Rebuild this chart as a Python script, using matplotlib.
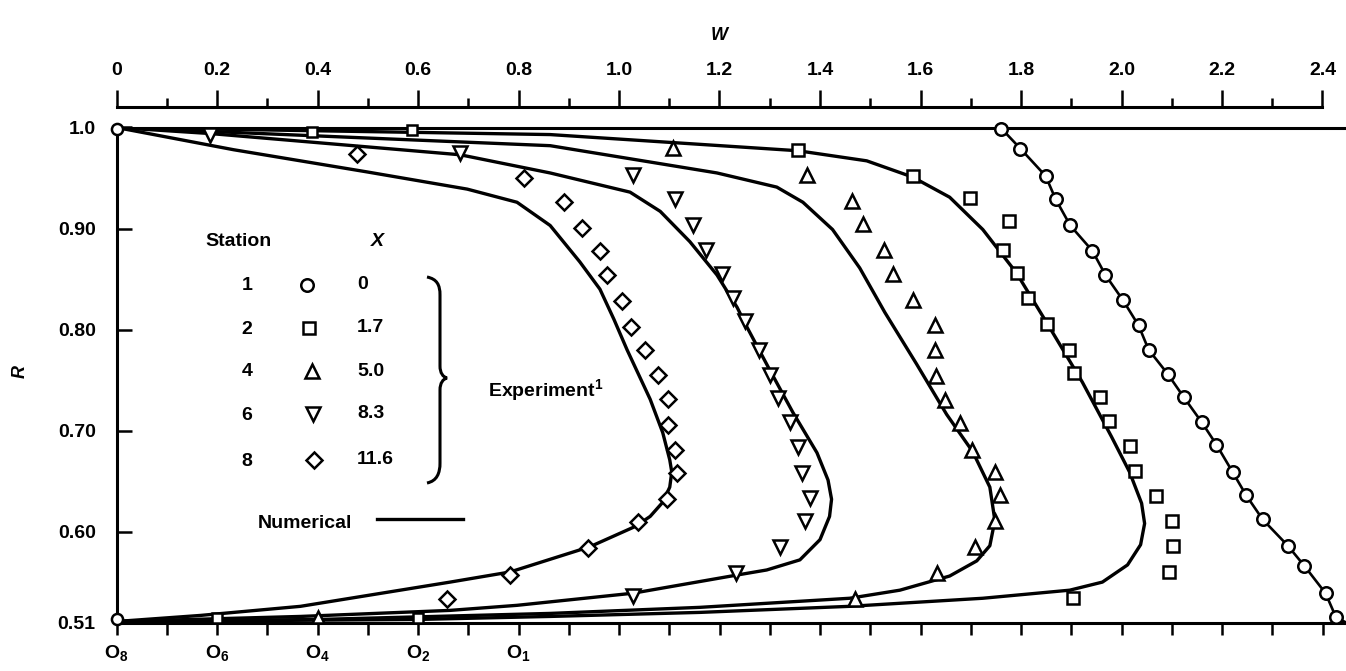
import numpy as np
import matplotlib
matplotlib.use("Agg")
import matplotlib.pyplot as plt
from matplotlib.path import Path
from matplotlib.patches import PathPatch
from matplotlib.lines import Line2D

plt.rcParams['font.family'] = ['Liberation Sans', 'DejaVu Sans']
plt.rcParams['font.size'] = 14
plt.rcParams['font.weight'] = 'bold'
plt.rcParams['mathtext.fontset'] = 'custom'
plt.rcParams['mathtext.rm'] = 'Liberation Sans:bold'
plt.rcParams['mathtext.it'] = 'Liberation Sans:italic:bold'
plt.rcParams['mathtext.bf'] = 'Liberation Sans:bold'

# station 1 (circles), X = 0
st1_w = [1.761, 1.799, 1.849, 1.869, 1.898, 1.942, 1.968, 2.003, 2.034, 2.054, 2.092,
         2.124, 2.160, 2.189, 2.221, 2.248, 2.281, 2.331, 2.364, 2.406, 2.427]
st1_r = [0.999, 0.979, 0.952, 0.929, 0.903, 0.878, 0.854, 0.829, 0.804, 0.780, 0.756,
         0.733, 0.708, 0.686, 0.659, 0.636, 0.612, 0.586, 0.566, 0.539, 0.515]

# station 2 (squares), X = 1.7
st2_w = [1.356, 1.585, 1.698, 1.776, 1.765, 1.792, 1.814, 1.851, 1.895, 1.905, 1.958,
         1.975, 2.016, 2.026, 2.068, 2.101, 2.102, 2.095, 1.903]
st2_r = [0.978, 0.952, 0.930, 0.907, 0.879, 0.856, 0.831, 0.805, 0.780, 0.757, 0.733,
         0.709, 0.685, 0.660, 0.635, 0.610, 0.586, 0.560, 0.534]

# station 4 (triangles), X = 5.0
st4_w = [1.107, 1.374, 1.464, 1.485, 1.527, 1.545, 1.586, 1.628, 1.628, 1.630, 1.649,
         1.678, 1.703, 1.748, 1.759, 1.748, 1.708, 1.633, 1.469]
st4_r = [0.980, 0.953, 0.927, 0.904, 0.879, 0.855, 0.829, 0.804, 0.780, 0.754, 0.730,
         0.707, 0.681, 0.659, 0.636, 0.610, 0.585, 0.559, 0.533]

# station 6 (inverted triangles), X = 8.3
st6_w = [0.187, 0.684, 1.028, 1.111, 1.147, 1.174, 1.204, 1.227, 1.250, 1.279, 1.300,
         1.317, 1.341, 1.356, 1.365, 1.380, 1.370, 1.321, 1.233, 1.027]
st6_r = [0.993, 0.975, 0.953, 0.929, 0.903, 0.879, 0.855, 0.831, 0.808, 0.780, 0.755,
         0.732, 0.708, 0.684, 0.658, 0.633, 0.610, 0.585, 0.559, 0.536]

# station 8 (diamonds), X = 11.6
st8_w = [0.479, 0.810, 0.891, 0.926, 0.962, 0.977, 1.005, 1.023, 1.052, 1.078, 1.098,
         1.098, 1.111, 1.115, 1.095, 1.038, 0.938, 0.783, 0.658]
st8_r = [0.974, 0.950, 0.926, 0.901, 0.878, 0.854, 0.828, 0.803, 0.780, 0.755, 0.731,
         0.706, 0.681, 0.658, 0.632, 0.609, 0.584, 0.557, 0.533]

# wall points at the shifted origins
wall_circ_w, wall_circ_r = [0.0, 0.0], [0.999, 0.513]
wall_sq_w, wall_sq_r = [0.389, 0.589, 0.2, 0.6], [0.996, 0.998, 0.514, 0.514]
wall_tri_w, wall_tri_r = [0.4], [0.515]

# numerical profiles
num1_w = [1.752] + st1_w + [2.447]
num1_r = [1.0] + st1_r + [0.51]
num2_w = [0.0, 0.863, 1.356, 1.493, 1.584, 1.658, 1.724, 1.791, 1.857, 1.922, 1.980, 2.016,
          2.040, 2.046, 2.038, 2.012, 1.962, 1.897, 1.724, 1.459, 1.161, 0.863, 0.598, 0.0]
num2_r = [1.0, 0.993, 0.977, 0.967, 0.951, 0.931, 0.899, 0.856, 0.802, 0.748, 0.694, 0.659,
          0.628, 0.608, 0.587, 0.567, 0.550, 0.542, 0.534, 0.526, 0.520, 0.516, 0.513, 0.511]
num4_w = [0.0, 0.863, 1.195, 1.314, 1.366, 1.425, 1.479, 1.529, 1.592, 1.652, 1.704, 1.738,
          1.748, 1.738, 1.712, 1.658, 1.559, 1.459, 1.161, 0.863, 0.400, 0.0]
num4_r = [1.0, 0.982, 0.955, 0.941, 0.926, 0.899, 0.861, 0.817, 0.766, 0.716, 0.679, 0.644,
          0.611, 0.586, 0.571, 0.556, 0.542, 0.534, 0.525, 0.519, 0.513, 0.511]
num6_w = [0.0, 0.187, 0.684, 0.863, 1.022, 1.082, 1.141, 1.195, 1.235, 1.254, 1.300, 1.346,
          1.394, 1.416, 1.423, 1.419, 1.400, 1.360, 1.294, 1.235, 1.028, 0.797, 0.664, 0.366, 0.0]
num6_r = [1.0, 0.994, 0.973, 0.955, 0.936, 0.917, 0.887, 0.854, 0.822, 0.803, 0.760, 0.718,
          0.678, 0.651, 0.632, 0.615, 0.592, 0.572, 0.562, 0.557, 0.539, 0.527, 0.522, 0.516, 0.511]
num8_w = [0.0, 0.233, 0.499, 0.698, 0.797, 0.863, 0.922, 0.962, 0.990, 1.016, 1.062, 1.087,
          1.101, 1.105, 1.101, 1.087, 1.062, 1.032, 0.942, 0.783, 0.664, 0.366, 0.167, 0.0]
num8_r = [1.0, 0.978, 0.956, 0.939, 0.926, 0.903, 0.867, 0.840, 0.810, 0.780, 0.731, 0.698,
          0.671, 0.659, 0.644, 0.629, 0.615, 0.605, 0.585, 0.560, 0.550, 0.526, 0.517, 0.511]

# legend table
stations = ['1', '2', '4', '6', '8']
x_values = ['0', '1.7', '5.0', '8.3', '11.6']
markers = ['o', 's', '^', 'v', 'D']
msizes = [9, 9, 10, 10, 8.5]

top_ticks = [0, 0.2, 0.4, 0.6, 0.8, 1.0, 1.2, 1.4, 1.6, 1.8, 2.0, 2.2, 2.4]
top_labels = ['0', '0.2', '0.4', '0.6', '0.8', '1.0', '1.2', '1.4', '1.6', '1.8', '2.0', '2.2', '2.4']
r_ticks = [0.51, 0.60, 0.70, 0.80, 0.90, 1.0]
r_labels = ['0.51', '0.60', '0.70', '0.80', '0.90', '1.0']
origin_ticks = [0.0, 0.2, 0.4, 0.6, 0.8]
origin_labels = ['O$_8$', 'O$_6$', 'O$_4$', 'O$_2$', 'O$_1$']

PW, PH = 1346, 671


def fp(x, y):
    return x / PW, 1 - y / PH


fig = plt.figure(figsize=(13.46, 6.71), dpi=100)
x0, x1, y0, y1 = 116.5, 1346, 127.5, 622.5
ax = fig.add_axes([x0 / PW, 1 - y1 / PH, (x1 - x0) / PW, (y1 - y0) / PH])
ax.set_xlim(0, (x1 - x0) / 502.5)
ax.set_ylim(0.51, 1.0)
ax.spines['right'].set_visible(False)
for s in ['left', 'top', 'bottom']:
    ax.spines[s].set_linewidth(2.2)

lw = 2.4
for w, r in [(num2_w, num2_r), (num4_w, num4_r), (num6_w, num6_r), (num8_w, num8_r)]:
    ax.plot(w, r, color='black', lw=lw, zorder=2, solid_capstyle='round')
ax.plot(num1_w, num1_r, color='black', lw=1.9, zorder=2)

mk = dict(ls='none', mfc='white', mec='black', mew=1.8, zorder=4, clip_on=False)
ax.plot(st1_w, st1_r, marker='o', ms=9, **mk)
ax.plot(st2_w, st2_r, marker='s', ms=9, **mk)
ax.plot(st4_w, st4_r, marker='^', ms=10, **mk)
ax.plot(st6_w, st6_r, marker='v', ms=10, **mk)
ax.plot(st8_w, st8_r, marker='D', ms=8.5, **mk)
ax.plot(wall_circ_w, wall_circ_r, marker='o', ms=8, **mk)
ax.plot(wall_sq_w, wall_sq_r, marker='s', ms=7, **mk)
ax.plot(wall_tri_w, wall_tri_r, marker='^', ms=8, **mk)

ax.set_xticks(np.arange(0, 2.41, 0.1))
ax.set_xticklabels([origin_labels[origin_ticks.index(round(t, 1))] if round(t, 1) in origin_ticks else ''
                    for t in np.arange(0, 2.41, 0.1)])
ax.tick_params(axis='x', direction='out', length=8.5, width=1.8, pad=6, labelsize=14)
ax.set_yticks(r_ticks)
ax.set_yticklabels(r_labels)
ax.tick_params(axis='y', direction='in', length=11, width=1.8, pad=15, labelsize=14)

# top W scale
axt = fig.add_axes([x0 / PW, 1 - 107 / PH, (x1 - x0) / PW, 0.0001])
axt.set_xlim(ax.get_xlim())
axt.patch.set_visible(False)
for s in ['left', 'right', 'bottom']:
    axt.spines[s].set_visible(False)
axt.spines['top'].set_linewidth(2.2)
axt.spines['top'].set_bounds(0, 2.4)
axt.set_yticks([])
axt.xaxis.set_ticks_position('top')
axt.xaxis.set_label_position('top')
axt.set_xticks(top_ticks)
axt.set_xticklabels(top_labels)
axt.set_xticks(np.arange(0.1, 2.4, 0.2), minor=True)
axt.tick_params(axis='x', which='major', direction='out', length=12, width=1.8, pad=8, labelsize=14)
axt.tick_params(axis='x', which='minor', direction='out', length=6.5, width=1.8)

fig.text(*fp(719, 36), 'W', style='italic', ha='center', va='center', fontsize=13)
fig.text(*fp(20, 372), 'R', style='italic', ha='center', va='center', rotation=90, fontsize=13)

# legend block
fig.text(*fp(205, 242), 'Station', ha='left', va='center')
fig.text(*fp(377, 241), 'X', style='italic', ha='center', va='center')
row_y = [286, 329, 372, 415, 461]
mark_x = [307, 309, 312, 313, 314]
for st, xv, m, ms, yy, mx in zip(stations, x_values, markers, msizes, row_y, mark_x):
    fig.text(*fp(247, yy), st, ha='center', va='center')
    fig.text(*fp(357, yy - 1), xv, ha='left', va='center')
    fx, fy = fp(mx, yy - 1)
    fig.add_artist(Line2D([fx], [fy], marker=m, ms=ms, mfc='white', mec='black', mew=1.8,
                          transform=fig.transFigure))

# brace
bp = [(427, 277), (437, 279), (440, 285), (440, 295),
      (440, 366),
      (440, 373), (443, 377), (447, 378),
      (443, 379), (440, 383), (440, 390),
      (440, 463),
      (440, 473), (437, 481), (427, 483)]
codes = [Path.MOVETO, Path.CURVE4, Path.CURVE4, Path.CURVE4, Path.LINETO,
         Path.CURVE4, Path.CURVE4, Path.CURVE4, Path.CURVE4, Path.CURVE4, Path.CURVE4,
         Path.LINETO, Path.CURVE4, Path.CURVE4, Path.CURVE4]
brace = Path([fp(x, y) for x, y in bp], codes)
fig.add_artist(PathPatch(brace, fill=False, lw=2.2, ec='black', transform=fig.transFigure))

fig.text(*fp(488, 390), 'Experiment$^{1}$', ha='left', va='center')
fig.text(*fp(258, 523), 'Numerical', ha='left', va='center')
lx0, ly = fp(377, 519)
lx1, _ = fp(463, 519)
fig.add_artist(Line2D([lx0, lx1], [ly, ly], color='black', lw=2.4, transform=fig.transFigure))

fig.savefig('out.png', dpi=100)
